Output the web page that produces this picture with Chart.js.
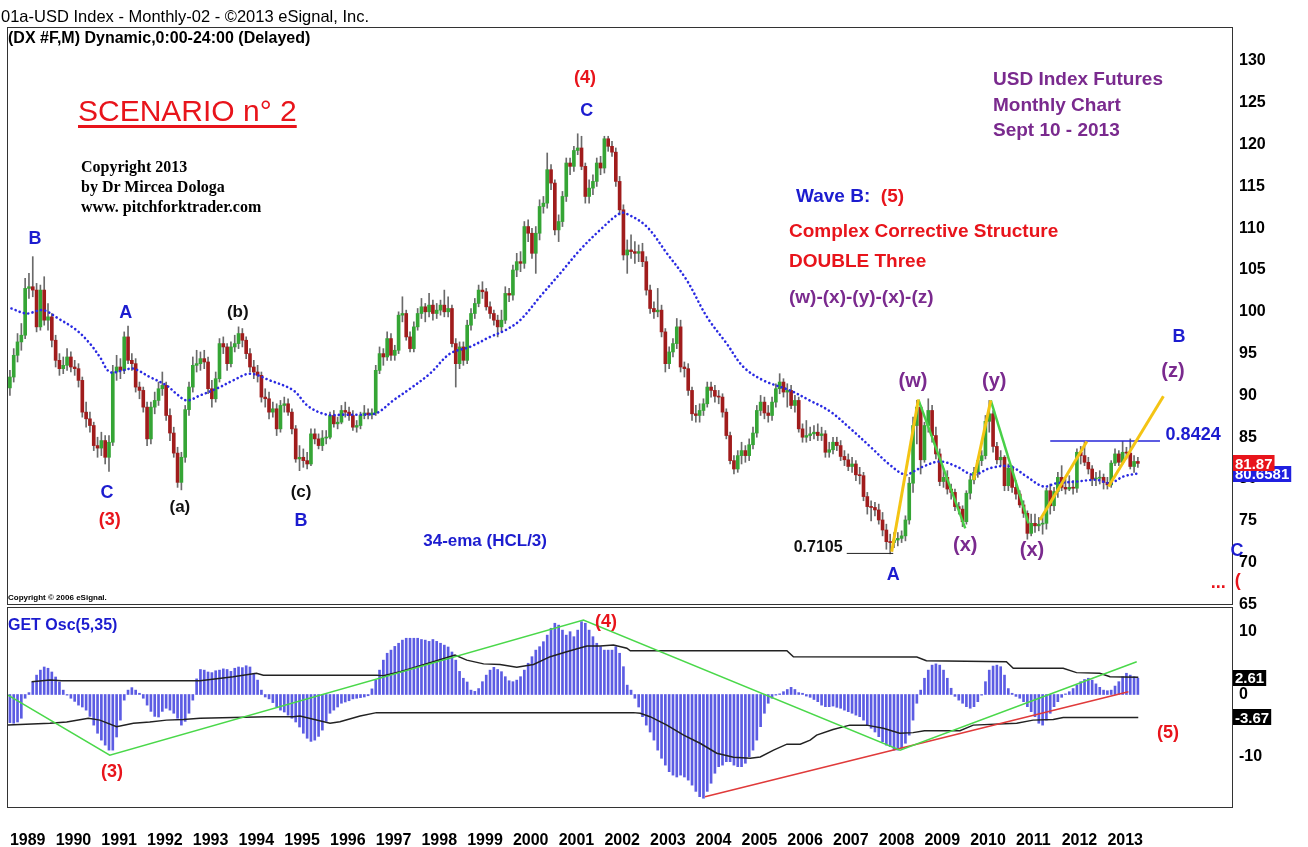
<!DOCTYPE html>
<html>
<head>
<meta charset="utf-8">
<title>USD Index Futures - Monthly</title>
<script src="https://cdn.jsdelivr.net/npm/chart.js@4.4.1/dist/chart.umd.min.js"></script>
<style>
  body { margin: 0; background: #fff; }
  #wrap { position: relative; width: 1308px; height: 847px; overflow: hidden; background: #fff;
          font-family: "Liberation Sans", Arial, sans-serif; }
  canvas { position: absolute; left: 0; }
  #price { top: 0; }
  #osc { top: 606px; }
  .t { position: absolute; white-space: nowrap; font-weight: bold; line-height: 1; }
</style>
</head>
<body>
<div id="wrap">
  <canvas id="price" width="1308" height="622"></canvas>
  <canvas id="osc" width="1308" height="241"></canvas>

  <div class="t" style="left:0;top:0;width:372px;height:27px;background:#fff;">
    <span style="position:absolute;left:1px;top:8px;font-weight:normal;font-size:16.5px">01a-USD Index - Monthly-02 - ©2013 eSignal, Inc.</span>
  </div>
  <div class="t" style="left:8px;top:30px;font-size:16px">(DX #F,M) Dynamic,0:00-24:00 (Delayed)</div>
  <div class="t" style="left:78px;top:96px;font-size:30px;font-weight:normal;color:#e8141b;text-decoration:underline;text-decoration-thickness:3px;text-underline-offset:4px">SCENARIO n° 2</div>
  <div class="t" style="left:81px;top:157px;font-family:'Liberation Serif',serif;font-size:16px;line-height:20px">Copyright 2013<br>by Dr Mircea Dologa<br>www. pitchforktrader.com</div>
  <div class="t" style="left:993px;top:66px;font-size:19px;line-height:25.5px;color:#7a2a8e">USD Index Futures<br>Monthly Chart<br>Sept 10 - 2013</div>
  <div class="t" style="left:796px;top:186px;font-size:19px;color:#1c1ccf">Wave B:&nbsp;&nbsp;<span style="color:#e8141b">(5)</span></div>
  <div class="t" style="left:789px;top:221px;font-size:19px;color:#e8141b">Complex Corrective Structure</div>
  <div class="t" style="left:789px;top:251px;font-size:19px;color:#e8141b">DOUBLE Three</div>
  <div class="t" style="left:789px;top:287px;font-size:19px;color:#7a2a8e">(w)-(x)-(y)-(x)-(z)</div>
  <div class="t" style="left:8px;top:594px;font-size:8px">Copyright © 2006 eSignal.</div>
  <div class="t" style="left:8px;top:617px;font-size:16px;color:#1c1ccf">GET Osc(5,35)</div>
</div>

<script>
// ---- data: monthly bars, x = months since Jan 1989 ----
var yearLabels = ['1989','1990','1991','1992','1993','1994','1995','1996','1997','1998','1999','2000',
                  '2001','2002','2003','2004','2005','2006','2007','2008','2009','2010','2011','2012','2013'];

var firstOpen = 90.9;

var closes = [
  92.2, 94.8, 96.4, 97.2, 102.8, 103.0, 102.6, 98.2, 102.6, 99.0, 99.4, 96.6,
  94.2, 93.2, 93.6, 94.6, 93.4, 93.2, 91.8, 88.0, 87.2, 86.4, 84.0, 83.7,
  84.6, 82.6, 84.4, 92.8, 93.4, 93.0, 97.0, 94.2, 93.8, 91.0, 90.6, 88.6,
  84.8, 88.6, 89.4, 90.8, 91.2, 87.6, 85.5, 83.1, 79.6, 82.6, 88.3, 91.0,
  93.6, 93.8, 94.4, 94.0, 90.8, 89.6, 92.0, 96.2, 95.8, 93.8, 95.8, 96.2,
  97.4, 96.6, 95.0, 93.4, 92.8, 92.4, 89.8, 89.6, 88.0, 88.4, 86.0, 88.8,
  89.0, 88.0, 86.0, 82.4, 82.6, 82.2, 81.8, 85.4, 84.8, 84.0, 84.9, 85.0,
  87.6, 86.6, 86.8, 88.2, 88.0, 87.6, 86.2, 86.4, 87.6, 87.9, 87.7, 87.9,
  93.0, 95.0, 94.6, 96.8, 94.8, 95.4, 99.6, 99.8, 97.0, 95.6, 98.2, 99.8,
  100.6, 100.0, 100.8, 99.8, 100.2, 100.8, 100.0, 100.4, 96.2, 93.8, 95.8, 94.2,
  98.4, 99.8, 101.0, 102.6, 102.4, 100.6, 99.8, 99.0, 98.2, 99.0, 102.2, 102.0,
  105.0, 106.0, 105.8, 110.2, 109.4, 107.0, 109.4, 112.6, 113.0, 117.0, 115.4, 109.8,
  110.8, 113.8, 117.8, 117.4, 119.3, 119.6, 117.4, 113.8, 114.8, 115.6, 117.8, 117.2,
  120.7, 119.8, 119.1, 115.6, 112.2, 106.8, 107.4, 107.2, 107.0, 107.2, 106.0, 102.6,
  100.4, 100.0, 100.2, 97.6, 93.8, 95.2, 96.2, 98.2, 93.4, 93.2, 90.6, 87.8,
  87.6, 88.2, 89.0, 91.0, 90.6, 89.9, 89.8, 88.0, 85.2, 82.2, 81.2, 82.8,
  83.4, 82.8, 84.1, 85.5, 88.2, 89.2, 87.9, 87.6, 89.2, 90.8, 91.6, 90.4,
  90.6, 88.8, 89.4, 86.0, 85.0, 85.2, 85.4, 85.6, 85.2, 85.4, 83.2, 83.5,
  84.4, 84.0, 82.7, 82.3, 81.5, 81.8, 80.5, 80.4, 77.9, 76.7, 76.6, 76.3,
  75.1, 73.9, 72.5, 72.4, 72.7, 72.9, 73.2, 75.1, 79.5, 86.4, 88.6, 82.3,
  86.4, 88.2, 85.2, 83.0, 79.7, 80.2, 78.8, 78.4, 76.7, 76.4, 74.9, 78.3,
  79.9, 80.8, 82.2, 82.8, 86.9, 87.8, 83.9, 82.3, 82.6, 79.2, 81.3, 79.0,
  78.2, 76.9, 75.9, 73.5, 74.7, 74.4, 74.6, 74.7, 78.6, 76.8, 78.5, 80.2,
  79.0, 78.8, 79.0, 78.9, 83.2, 82.8, 82.0, 81.2, 80.0, 80.1, 80.2, 79.6,
  79.3, 81.9, 83.0, 82.0, 83.2, 83.1, 81.5, 82.1, 81.87
];

var highs = [
  93.0, 95.6, 97.4, 98.6, 104.0, 104.6, 106.6, 103.4, 103.2, 104.2, 101.0, 99.8,
  97.2, 95.0, 94.6, 95.6, 95.2, 94.2, 93.8, 92.2, 89.2, 88.0, 86.8, 85.0,
  85.6, 85.2, 85.2, 93.6, 94.8, 94.4, 97.6, 98.3, 95.0, 94.4, 91.6, 91.0,
  89.2, 89.2, 90.4, 91.6, 92.8, 91.6, 88.4, 86.2, 83.8, 83.2, 88.8, 91.6,
  94.6, 95.4, 95.2, 95.4, 94.6, 91.8, 92.8, 96.8, 97.0, 96.2, 96.4, 97.2,
  98.2, 98.0, 97.0, 95.6, 94.2, 93.6, 92.8, 90.8, 90.4, 89.2, 89.0, 89.4,
  89.8, 89.6, 88.4, 86.4, 84.0, 83.6, 83.2, 86.0, 86.0, 85.4, 85.8, 85.8,
  88.0, 88.2, 87.4, 88.8, 89.2, 88.6, 88.2, 87.0, 88.0, 88.8, 88.4, 88.4,
  93.6, 95.8, 95.6, 97.6, 97.4, 96.0, 100.0, 101.8, 100.2, 97.6, 98.8, 100.4,
  101.6, 101.0, 102.2, 101.4, 101.0, 101.4, 102.6, 101.8, 100.8, 96.8, 96.4, 96.4,
  99.0, 100.4, 101.6, 103.2, 103.6, 102.8, 101.2, 100.2, 99.6, 100.2, 103.0, 102.8,
  105.6, 107.0, 107.2, 110.8, 111.0, 110.0, 110.2, 113.4, 113.8, 119.0, 117.6, 115.8,
  111.6, 114.4, 118.4, 118.4, 119.8, 121.3, 121.0, 117.8, 115.8, 116.4, 118.4, 118.6,
  121.0, 121.0, 120.4, 119.6, 116.2, 112.8, 108.6, 109.2, 108.4, 108.0, 108.2, 106.6,
  103.2, 101.2, 102.8, 100.8, 98.0, 95.8, 96.8, 99.2, 99.0, 94.0, 93.8, 91.0,
  88.8, 89.0, 89.6, 91.6, 91.6, 91.2, 90.6, 90.2, 88.4, 85.6, 82.8, 83.4,
  84.4, 84.0, 84.8, 86.2, 88.8, 90.0, 89.8, 88.8, 89.8, 91.4, 92.6, 92.0,
  91.4, 91.2, 90.0, 89.8, 86.6, 87.0, 86.2, 86.4, 86.6, 86.2, 85.8, 84.4,
  85.0, 85.0, 84.6, 83.4, 83.0, 82.6, 82.2, 81.4, 80.8, 78.4, 77.4, 77.2,
  77.0, 76.0, 74.6, 73.4, 73.6, 73.6, 73.8, 75.6, 80.2, 87.4, 89.4, 88.8,
  86.8, 89.6, 88.8, 86.2, 83.6, 81.2, 81.0, 79.4, 78.8, 77.2, 76.8, 78.6,
  80.4, 81.4, 82.6, 83.4, 87.6, 89.4, 88.2, 84.4, 83.4, 82.8, 81.8, 81.6,
  79.8, 78.6, 77.4, 76.2, 75.8, 75.8, 75.4, 75.4, 78.9, 79.4, 79.0, 80.8,
  81.6, 80.0, 80.4, 79.8, 83.6, 83.9, 84.4, 82.6, 81.6, 80.8, 81.0, 80.6,
  80.2, 82.2, 83.6, 83.4, 84.5, 83.8, 84.8, 82.8, 82.6
];

var lows = [
  90.0, 91.6, 94.0, 95.4, 96.8, 101.6, 101.8, 97.6, 97.8, 98.4, 97.8, 95.8,
  93.4, 92.4, 92.6, 93.0, 92.8, 92.4, 91.0, 87.4, 86.2, 85.6, 83.4, 82.6,
  82.8, 81.8, 80.9, 84.0, 91.8, 92.0, 92.6, 93.8, 93.0, 90.4, 89.6, 88.0,
  84.0, 84.2, 87.8, 88.8, 90.0, 87.0, 84.6, 82.6, 79.0, 78.7, 82.0, 87.6,
  90.4, 92.8, 93.0, 93.2, 90.2, 88.6, 89.2, 91.6, 95.0, 93.0, 93.4, 95.2,
  95.6, 95.8, 94.4, 92.8, 92.0, 91.6, 89.2, 88.6, 87.2, 87.4, 85.2, 85.6,
  88.0, 87.6, 85.4, 82.0, 81.0, 81.4, 81.2, 81.6, 84.2, 83.6, 83.4, 84.2,
  84.8, 86.2, 86.0, 86.6, 87.4, 87.0, 85.8, 85.6, 86.0, 87.2, 87.2, 87.2,
  87.6, 92.6, 93.6, 94.2, 94.2, 94.2, 95.0, 98.8, 96.6, 95.2, 95.2, 97.8,
  99.2, 98.8, 99.4, 99.0, 99.2, 99.6, 99.4, 99.4, 95.8, 91.0, 93.2, 93.6,
  93.8, 97.8, 99.2, 100.6, 101.6, 100.2, 99.2, 98.4, 97.0, 97.6, 98.6, 101.2,
  101.4, 104.2, 104.8, 105.2, 108.4, 106.4, 104.6, 108.6, 111.8, 112.4, 114.6, 109.2,
  108.4, 110.2, 113.2, 116.4, 116.8, 118.8, 117.0, 113.0, 113.0, 114.0, 115.0, 116.4,
  116.6, 119.2, 118.6, 115.0, 111.6, 106.2, 104.6, 106.4, 105.8, 106.0, 105.4, 102.0,
  99.8, 99.2, 99.4, 97.0, 92.8, 93.2, 94.6, 95.6, 92.8, 92.2, 90.0, 87.0,
  86.8, 86.8, 87.6, 88.6, 89.8, 89.2, 89.0, 87.4, 84.8, 81.8, 80.6, 80.8,
  81.8, 82.0, 82.2, 83.6, 85.0, 87.6, 87.2, 86.8, 87.0, 88.6, 90.2, 89.8,
  88.6, 88.4, 88.0, 85.6, 84.4, 84.4, 84.6, 84.8, 84.6, 84.6, 82.6, 82.6,
  83.0, 83.4, 82.2, 81.6, 81.0, 80.8, 79.8, 79.4, 77.4, 75.8, 75.0, 75.6,
  74.6, 73.2, 71.6, 71.05, 71.8, 72.0, 72.4, 72.6, 74.6, 78.4, 84.2, 80.6,
  82.0, 85.6, 84.4, 82.4, 79.2, 79.0, 78.2, 77.6, 76.2, 75.8, 74.3, 74.6,
  77.6, 79.4, 80.2, 81.6, 82.4, 85.6, 83.2, 81.8, 81.6, 78.6, 78.6, 78.4,
  77.6, 76.6, 75.4, 72.8, 73.2, 73.6, 73.8, 73.4, 74.0, 75.8, 76.2, 77.8,
  78.6, 78.2, 78.6, 78.2, 78.4, 81.8, 81.6, 80.6, 79.2, 79.2, 79.4, 78.8,
  78.8, 79.0, 81.6, 81.6, 81.8, 82.4, 81.2, 80.8, 81.4
];

// 34-ema (HCL/3)
var emaMonths = [0.4, 4.4, 8.7, 12.7, 17.5, 21, 23.6, 26.2, 29.7, 32.4, 36.7, 41.1, 43.7, 46.4, 49.9,
  54.2, 58.6, 63, 68.2, 74.4, 78.3, 83.1, 87.5, 92.7, 96.3, 100.6, 105, 110.2, 115.5, 120.7,
  126, 130, 133.9, 139.1, 144.4, 149.6, 154.9, 160.1, 162, 167.1, 172.4, 177.6, 182.9, 188.1, 192.5,
  197.7, 204.7, 209.9, 215.2, 220.4, 225.7, 230.9, 234.9, 237.1, 239.7, 244.1, 248.4, 252.8, 257.2, 262.5,
  266.8, 271.2, 274.7, 280, 285.2, 288.7, 292.2, 296];
var emaValues = [100.4, 99.8, 100.2, 99.2, 97.8, 96.2, 94.6, 92.8, 93.0, 93.2, 92.2, 91.2, 90.2, 89.4, 90.0,
  90.8, 91.8, 92.6, 91.8, 90.6, 88.7, 87.7, 87.7, 87.7, 87.9, 89.4, 90.8, 92.6, 95.0, 95.8,
  97.0, 97.8, 99.0, 101.8, 104.6, 107.4, 109.8, 111.8, 111.7, 110.2, 107.0, 103.8, 99.4, 96.2, 93.4,
  91.8, 90.6, 89.4, 88.1, 86.1, 83.9, 81.7, 80.5, 80.9, 81.5, 82.1, 81.5, 80.5, 81.3, 81.5,
  80.3, 79.1, 79.5, 79.7, 79.9, 79.5, 80.3, 80.6581];

// GET Osc(5,35) histogram
var oscValues = [
  -4.5, -4.6, -4.4, -3.8, -0.6, 0.3, 2.0, 3.1, 3.9, 4.4, 4.2, 3.6,
  2.8, 2.0, 0.7, -0.1, -0.6, -1.1, -1.7, -2.0, -2.5, -3.5, -4.9, -6.2,
  -7.3, -8.1, -8.9, -8.9, -6.8, -4.1, -0.9, 0.7, 1.1, 0.7, 0.2, -0.6,
  -1.7, -2.7, -3.5, -3.6, -2.7, -2.2, -2.5, -3.0, -3.8, -4.9, -4.3, -3.0,
  -0.9, 2.5, 4.0, 3.9, 3.6, 3.5, 3.8, 3.9, 4.1, 4.0, 3.7, 4.2,
  4.4, 4.3, 4.6, 4.4, 3.4, 2.3, 0.7, -0.4, -0.7, -1.3, -2.0, -2.5,
  -2.8, -3.3, -3.8, -4.4, -5.2, -6.2, -7.0, -7.5, -7.3, -6.7, -5.7, -4.3,
  -3.0, -2.5, -2.0, -1.4, -1.2, -1.0, -0.7, -0.6, -0.5, -0.4, -0.2, 0.9,
  2.3, 3.9, 5.5, 6.6, 7.1, 7.7, 8.2, 8.7, 9.0, 9.0, 9.0, 9.0,
  8.8, 8.7, 8.5, 8.8, 8.5, 8.2, 7.9, 7.6, 6.8, 5.5, 3.7, 2.6,
  2.0, 0.7, 0.5, 0.95, 2.05, 3.1, 3.9, 4.35, 4.0, 3.65, 2.85, 2.2,
  2.05, 2.3, 2.85, 3.9, 5.0, 6.05, 7.1, 7.65, 8.45, 9.5, 10.6, 11.4,
  11.1, 10.3, 9.5, 10.05, 9.25, 10.3, 11.65, 11.4, 10.3, 9.25, 8.2, 7.65,
  7.1, 7.1, 7.1, 7.65, 6.6, 4.45, 1.5, 0.7, -0.6, -2.0, -3.55, -4.9,
  -6.0, -7.3, -8.9, -10.2, -11.3, -12.35, -12.9, -13.2, -12.9, -13.2, -13.7, -14.5,
  -15.5, -16.35, -16.6, -15.5, -14.2, -12.6, -11.55, -11.3, -10.75, -10.75, -11.3, -11.55,
  -11.55, -11.0, -9.95, -8.9, -7.3, -5.15, -3.0, -1.4, -0.6, -0.1, 0.1, 0.45,
  0.8, 1.15, 0.8, 0.3, 0.2, -0.25, -0.45, -0.8, -1.15, -1.7, -1.95, -1.95,
  -1.85, -2.05, -2.2, -2.5, -2.75, -3.0, -3.3, -3.55, -4.1, -4.9, -5.4, -6.0,
  -6.75, -7.55, -8.1, -8.35, -8.9, -8.9, -8.6, -7.8, -6.5, -4.1, -1.4, 0.7,
  2.6, 3.9, 4.7, 4.9, 4.7, 3.9, 2.6, 1.0, -0.3, -0.9, -1.4, -1.95,
  -2.2, -1.95, -1.15, -0.1, 2.05, 3.9, 4.55, 4.7, 4.45, 3.1, 0.95, 0.2,
  -0.3, -0.6, -1.15, -1.95, -2.75, -3.55, -4.6, -4.9, -4.1, -3.0, -1.95, -1.15,
  -0.45, 0.1, 0.45, 0.95, 1.5, 2.05, 2.4, 2.6, 2.3, 1.7, 1.15, 0.7,
  0.6, 0.7, 1.35, 2.05, 2.85, 3.4, 3.1, 2.85, 2.61
];

// oscillator bands (black lines)
var upperMonths = [5.7, 10.5, 13.6, 49.9, 58.6, 64.7, 66.5, 96.2, 98, 102.4, 111.1, 116.8, 119.9, 124.3, 128.6,
  133, 137.4, 141.8, 146.1, 151.4, 154.9, 158.4, 161.9, 162.8, 203.9, 205.6, 238, 240.5, 261.5, 263.3,
  276.4, 279.9, 286, 288.7, 296.1];
var upperValues = [2.05, 2.3, 2.2, 2.2, 2.85, 3.4, 3.1, 3.1, 3.0, 3.65, 5.25, 6.3, 5.5, 4.9, 4.8,
  4.35, 4.8, 6.05, 6.85, 7.75, 7.75, 7.9, 7.4, 7.0, 7.0, 6.05, 6.0, 5.4, 5.25, 4.2,
  4.2, 3.5, 3.4, 2.85, 2.75];
var lowerMonths = [-0.5, 10.5, 14.9, 20.6, 23.6, 28, 32.4, 36.7, 41.1, 45.5, 49.9, 67.4, 74.4, 76.1, 84,
  86.6, 91.9, 96.2, 163.6, 165.4, 168, 172.4, 176.8, 181.1, 185.5, 189.9, 194.3, 196.9, 200.4, 203.9,
  207.4, 210, 211.7, 216, 220.4, 224.8, 229.2, 233.5, 237, 240, 249.3, 252.8, 264.2, 268.5, 273.8,
  276.4, 296.1];
var lowerValues = [-4.9, -4.6, -4.4, -3.8, -4.1, -5.15, -4.6, -4.4, -4.1, -4.0, -3.8, -3.55, -3.55, -3.45, -4.6,
  -4.35, -3.45, -2.9, -2.9, -3.0, -3.55, -4.9, -6.5, -7.8, -9.4, -10.05, -10.2, -10.0, -8.9, -7.95,
  -7.95, -7.3, -6.5, -5.6, -4.9, -4.9, -5.4, -6.2, -6.1, -5.8, -5.8, -4.9, -4.6, -4.1, -4.0,
  -3.67, -3.67];

var lastEma = 80.6581;
var lastOsc = 2.61;
var lastLowerBand = -3.67;

// hand-drawn lines on the chart: [month, value] pairs
var yellowLines = [
  [[231.4, 71.3], [238.4, 89.5]],
  [[252.9, 79.9], [257.4, 89.4]],
  [[270.3, 75.1], [282.6, 84.5]],
  [[288.3, 79.1], [302.7, 89.9]]
];
var greenLines = [
  [[238.4, 89.5], [250.7, 74.1]],
  [[257.4, 89.4], [267.3, 74.7]]
];
var levelHigh = [[273, 84.55], [301.8, 84.55]];   // 0.8424
var levelLow = [[219.6, 71.1], [231.8, 71.1]];    // 0.7105
var oscGreen = [[-0.5, -0.1], [26.2, -9.7], [150.5, 11.9], [233.6, -8.9], [295.7, 5.25]];
var oscRed = [[182.4, -16.35], [293.5, 0.45]];

var BLUE = '#1c1ccf', RED = '#e8141b', PURPLE = '#7a2a8e', BLACK = '#111';
var FONT = '"Liberation Sans", Arial, sans-serif';

var priceLabels = [
  { t: 'B', m: 6.6, v: 108.7, c: BLUE, s: 18 },
  { t: 'A', m: 30.4, v: 99.9, c: BLUE, s: 18 },
  { t: '(b)', m: 59.8, v: 100.0, c: BLACK, s: 17 },
  { t: 'C', m: 25.5, v: 78.3, c: BLUE, s: 18 },
  { t: '(3)', m: 26.2, v: 75.1, c: RED, s: 18 },
  { t: '(a)', m: 44.6, v: 76.65, c: BLACK, s: 17 },
  { t: '(c)', m: 76.4, v: 78.45, c: BLACK, s: 17 },
  { t: 'B', m: 76.4, v: 75.0, c: BLUE, s: 18 },
  { t: '(4)', m: 150.9, v: 128.0, c: RED, s: 18 },
  { t: 'C', m: 151.4, v: 124.0, c: BLUE, s: 18 },
  { t: '34-ema (HCL/3)', m: 124.7, v: 72.6, c: BLUE, s: 17 },
  { t: '0.7105', m: 212.1, v: 71.75, c: BLACK, s: 16 },
  { t: 'A', m: 231.8, v: 68.5, c: BLUE, s: 18 },
  { t: '(w)', m: 237.0, v: 91.7, c: PURPLE, s: 20 },
  { t: '(y)', m: 258.3, v: 91.7, c: PURPLE, s: 20 },
  { t: '(x)', m: 250.7, v: 72.1, c: PURPLE, s: 20 },
  { t: '(x)', m: 268.2, v: 71.4, c: PURPLE, s: 20 },
  { t: 'B', m: 306.8, v: 97.0, c: BLUE, s: 18 },
  { t: '(z)', m: 305.2, v: 92.9, c: PURPLE, s: 20 },
  { t: '0.8424', m: 310.5, v: 85.3, c: BLUE, s: 18 },
  { t: 'C', m: 322.0, v: 71.4, c: BLUE, s: 18 },
  { t: '...', m: 317.1, v: 67.6, c: RED, s: 18 },
  { t: '(', m: 322.2, v: 67.8, c: RED, s: 18 }
];
var oscLabels = [
  { t: '(3)', m: 26.8, v: -12.4, c: RED, s: 18 },
  { t: '(4)', m: 156.4, v: 11.6, c: RED, s: 18 },
  { t: '(5)', m: 303.9, v: -6.16, c: RED, s: 18 }
];

// ---- build datasets ----
var opens = closes.map(function (c, i) { return i === 0 ? firstOpen : closes[i - 1]; });
var wicks = closes.map(function (c, i) { return { x: i, y: [lows[i], highs[i]] }; });
var bodies = closes.map(function (c, i) { return { x: i, y: [opens[i], c] }; });
var bodyColors = closes.map(function (c, i) { return c >= opens[i] ? '#35a535' : '#a01c1c'; });

function pairs(ms, vs) {
  return ms.map(function (m, i) { return { x: m, y: vs[i] }; });
}
function seg(points, color, width, order) {
  return {
    type: 'line',
    data: points.map(function (p) { return { x: p[0], y: p[1] }; }),
    borderColor: color, borderWidth: width, pointRadius: 0, fill: false, tension: 0, order: order
  };
}
// keep the plot area exactly where the layout padding puts it
function noPadX(s) { s.paddingLeft = 0; s.paddingRight = 0; }
function noPadY(s) { s.width = 76; s.paddingTop = 0; s.paddingBottom = 0; }

// frame round the plot area
var framePlugin = {
  id: 'frame',
  afterDraw: function (chart) {
    var a = chart.chartArea, c = chart.ctx;
    c.save();
    c.strokeStyle = '#333';
    c.lineWidth = 1;
    c.strokeRect(a.left - 0.5, a.top + 0.5, a.right - a.left + 1, a.bottom - a.top - 1);
    c.restore();
  }
};

// text labels placed in data coordinates
var marksPlugin = {
  id: 'marks',
  afterDraw: function (chart, args, opts) {
    var c = chart.ctx, xs = chart.scales.x, ys = chart.scales.y;
    c.save();
    c.textAlign = 'center';
    c.textBaseline = 'middle';
    (opts.items || []).forEach(function (l) {
      c.font = 'bold ' + l.s + 'px ' + FONT;
      c.fillStyle = l.c;
      c.fillText(l.t, xs.getPixelForValue(l.m), ys.getPixelForValue(l.v));
    });
    c.restore();
  }
};

// value boxes on the right axis
var boxesPlugin = {
  id: 'boxes',
  afterDraw: function (chart, args, opts) {
    var c = chart.ctx, ys = chart.scales.y, x0 = chart.chartArea.right + 1;
    c.save();
    c.font = 'bold 15px ' + FONT;
    c.textBaseline = 'middle';
    c.textAlign = 'left';
    (opts.items || []).forEach(function (b) {
      var y = ys.getPixelForValue(b.value);
      var w = c.measureText(b.text).width + 4;
      c.fillStyle = b.bg;
      c.fillRect(x0, Math.round(y - 8), w, 16);
      c.fillStyle = '#fff';
      c.fillText(b.text, x0 + 2, y + 1);
    });
    c.restore();
  }
};

var axisFont = { family: FONT, size: 16, weight: 'bold' };

// ---- price panel ----
var priceSets = [
  { type: 'bar', data: wicks, backgroundColor: '#6a6a6a', barThickness: 1, grouped: false, order: 9 },
  { type: 'bar', data: bodies, backgroundColor: bodyColors, barThickness: 3, minBarLength: 1, grouped: false, order: 8 },
  { type: 'line', data: pairs(emaMonths, emaValues), borderColor: '#2a2ae2', borderWidth: 2.6,
    borderDash: [0.1, 4.3], borderCapStyle: 'round', pointRadius: 0, fill: false, tension: 0.35, order: 7 }
];
yellowLines.forEach(function (l) { priceSets.push(seg(l, '#f4c414', 3, 2)); });
greenLines.forEach(function (l) { priceSets.push(seg(l, '#48d048', 2.5, 3)); });
priceSets.push(seg(levelHigh, '#2626d9', 1.5, 4));
priceSets.push(seg(levelLow, '#222', 1, 4));

new Chart(document.getElementById('price'), {
  type: 'bar',
  data: { datasets: priceSets },
  options: {
    responsive: false,
    animation: false,
    devicePixelRatio: 1,
    layout: { padding: { left: 8, top: 27, right: 0, bottom: 17 } },
    plugins: {
      legend: { display: false },
      tooltip: { enabled: false },
      marks: { items: priceLabels },
      boxes: { items: [
        { value: lastEma, text: lastEma.toFixed(4), bg: '#2020e0' },
        { value: closes[closes.length - 1], text: closes[closes.length - 1].toFixed(2), bg: '#e8141b' }
      ] }
    },
    scales: {
      x: { type: 'linear', display: false, min: -0.5, max: 320.7, offset: false, afterFit: noPadX },
      y: {
        position: 'right', min: 64.93, max: 134.07,
        afterFit: noPadY,
        grid: { display: false, drawTicks: false },
        border: { display: false },
        ticks: { stepSize: 5, includeBounds: false, padding: 7, color: '#000', font: axisFont }
      }
    }
  },
  plugins: [framePlugin, marksPlugin, boxesPlugin]
});

// ---- oscillator panel ----
var oscSets = [
  { type: 'bar', data: oscValues.map(function (v, i) { return { x: i, y: v }; }),
    backgroundColor: 'rgba(64,64,222,0.85)', barThickness: 2, order: 9 },
  { type: 'line', data: pairs(upperMonths, upperValues), borderColor: '#222', borderWidth: 1.5,
    pointRadius: 0, fill: false, tension: 0, order: 5 },
  { type: 'line', data: pairs(lowerMonths, lowerValues), borderColor: '#222', borderWidth: 1.5,
    pointRadius: 0, fill: false, tension: 0, order: 5 },
  seg(oscGreen, '#4ad84a', 1.5, 3),
  seg(oscRed, '#e03a3a', 1.5, 3)
];

new Chart(document.getElementById('osc'), {
  type: 'bar',
  data: { datasets: oscSets },
  options: {
    responsive: false,
    animation: false,
    devicePixelRatio: 1,
    layout: { padding: { left: 8, top: 1, right: 0, bottom: 0 } },
    plugins: {
      legend: { display: false },
      tooltip: { enabled: false },
      marks: { items: oscLabels },
      boxes: { items: [
        { value: lastOsc, text: lastOsc.toFixed(2), bg: '#000' },
        { value: lastLowerBand, text: lastLowerBand.toFixed(2), bg: '#000' }
      ] }
    },
    scales: {
      x: {
        type: 'linear', min: -0.5, max: 320.7, offset: false,
        afterBuildTicks: function (s) { s.ticks = yearLabels.map(function (y, k) { return { value: k * 12 }; }); },
        afterFit: function (s) { s.height = 39; noPadX(s); },
        grid: { display: false, drawTicks: false },
        border: { display: false },
        ticks: { align: 'start', autoSkip: false, maxRotation: 0, padding: 23, color: '#000', font: axisFont,
                 callback: function (v, i) { return yearLabels[i]; } }
      },
      y: {
        position: 'right', min: -18.16, max: 14,
        afterFit: noPadY,
        grid: { display: false, drawTicks: false },
        border: { display: false },
        ticks: { stepSize: 10, includeBounds: false, padding: 7, color: '#000', font: axisFont }
      }
    }
  },
  plugins: [framePlugin, marksPlugin, boxesPlugin]
});
</script>
</body>
</html>
